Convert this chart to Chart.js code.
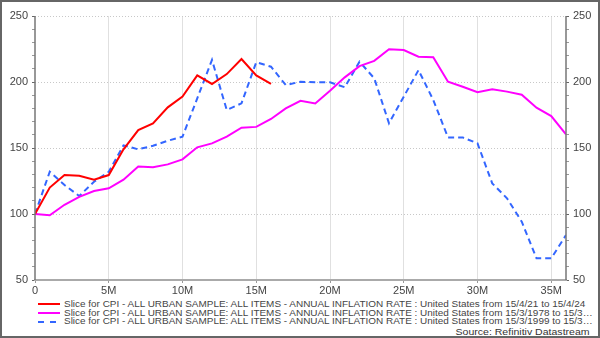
<!DOCTYPE html>
<html>
<head>
<meta charset="utf-8">
<script src="https://cdn.jsdelivr.net/npm/chart.js@4.4.1/dist/chart.umd.min.js"></script>
<style>
    body { margin: 0; background: #fff; font-family: "Liberation Sans", Arial, sans-serif; }
    #wrap { position: relative; width: 600px; height: 338px; overflow: hidden; }
    #frame { position: absolute; left: 0; top: 0; width: 600px; height: 338px; box-sizing: border-box; border: 2px solid #666; pointer-events: none; }
    #box { position: absolute; left: 0; top: 0; width: 600px; height: 298px; }
    #legend { position: absolute; left: 38px; top: 300px; font-size: 8.5px; color: #444; }
    .row { height: 8.7px; line-height: 8.7px; white-space: nowrap; display: flex; align-items: center; }
    .row svg { width: 22px; height: 4px; margin-right: 4px; flex: none; }
    .row span { display: inline-block; transform: scaleX(1.17); transform-origin: left center; }
    #source { position: absolute; right: 10px; top: 327px; font-size: 9px; color: #333; transform: scaleX(1.17); transform-origin: right center; }
</style>
</head>
<body>
<div id="wrap">
    <div id="box"><canvas id="cpiChart"></canvas></div>
    <div id="legend"></div>
    <div id="source">Source: Refinitiv Datastream</div>
    <div id="frame"></div>
</div>
<script>
// 月数 (0〜36)
const months = [0, 1, 2, 3, 4, 5, 6, 7, 8, 9, 10, 11, 12, 13, 14, 15, 16, 17, 18,
    19, 20, 21, 22, 23, 24, 25, 26, 27, 28, 29, 30, 31, 32, 33, 34, 35, 36];

// 2021年4月から
const red2021 = [100, 120, 129.5, 129, 126, 129.5, 149, 163.6, 168.7, 180.8, 188.9,
    205, 198.5, 206, 217.4, 205, 198.5];

// 1978年3月から
const magenta1978 = [100, 99, 107, 113, 117.4, 119.5, 126, 136, 135.4, 137.6, 141.4,
    150.5, 153.5, 158.6, 165.4, 166, 172, 180, 185.8, 183.8, 193.4, 203.5, 212, 216,
    224.8, 224.2, 219.2, 218.7, 200.2, 196.4, 192.2, 194.5, 192.7, 190.4, 180.5, 174.2, 160.4];

// 1999年3月から
const blue1999 = [100, 132, 122, 113.6, 124.5, 132, 152, 149, 151.7, 155.5, 158.6,
    187.6, 216.7, 178.8, 183.8, 215, 211.6, 197.7, 200.2, 199.8, 199.8, 196, 215.4, 202.8,
    168.7, 188.9, 209, 186.4, 158, 158, 153.5, 123.2, 111.9, 94.2, 66.4, 66.4, 84];

const seriesLabels = [
    'Slice for CPI - ALL URBAN SAMPLE: ALL ITEMS - ANNUAL INFLATION RATE : United States from 15/4/21 to 15/4/24',
    'Slice for CPI - ALL URBAN SAMPLE: ALL ITEMS - ANNUAL INFLATION RATE : United States from 15/3/1978 to 15/3\u2026',
    'Slice for CPI - ALL URBAN SAMPLE: ALL ITEMS - ANNUAL INFLATION RATE : United States from 15/3/1999 to 15/3\u2026'
];

const yMin = 50;
const yMax = 250;

function toPoints(values) {
    return values.map((v, i) => ({ x: months[i], y: v }));
}

const tickFont = { family: '"Liberation Sans", Arial, sans-serif', size: 11 };

function yAxis(position) {
    return {
        type: 'linear',
        position: position,
        min: yMin,
        max: yMax,
        afterFit: scale => { scale.width = position === 'left' ? 35 : 34; },
        ticks: {
            stepSize: 10,
            autoSkip: false,
            padding: 4,
            color: '#444',
            font: tickFont,
            callback: v => (v % 50 === 0 ? v : '')
        },
        grid: {
            drawOnChartArea: position === 'left',
            color: ctx => (ctx.tick && ctx.tick.value % 50 === 0 && ctx.tick.value !== yMin) ? '#c8c8c8' : 'rgba(0,0,0,0)',
            tickColor: ctx => (ctx.tick && ctx.tick.value % 50 === 0) ? '#666' : '#999',
            tickLength: 3
        },
        // 点線の目盛線 (軸線はプラグインで描く)
        border: { display: false, dash: [1, 2] }
    };
}

// 左右の軸線を実線で描く
const axisLines = {
    id: 'axisLines',
    afterDatasetsDraw(chart) {
        const { ctx, chartArea } = chart;
        ctx.save();
        ctx.strokeStyle = '#777';
        ctx.lineWidth = 1.5;
        ctx.beginPath();
        ctx.moveTo(chartArea.left, chartArea.top);
        ctx.lineTo(chartArea.left, chartArea.bottom);
        ctx.moveTo(chartArea.right, chartArea.top);
        ctx.lineTo(chartArea.right, chartArea.bottom);
        ctx.stroke();
        ctx.restore();
    }
};

const datasets = [
    { label: seriesLabels[0], data: toPoints(red2021), borderColor: '#ff0000', borderWidth: 2 },
    { label: seriesLabels[1], data: toPoints(magenta1978), borderColor: '#ff00ff', borderWidth: 2 },
    { label: seriesLabels[2], data: toPoints(blue1999), borderColor: '#3366ff', borderWidth: 2, borderDash: [6, 4] }
];
datasets.forEach(d => {
    d.pointRadius = 0;
    d.tension = 0;
    d.fill = false;
});

const ctx = document.getElementById('cpiChart').getContext('2d');
new Chart(ctx, {
    type: 'line',
    data: { datasets: datasets },
    plugins: [axisLines],
    options: {
        responsive: true,
        maintainAspectRatio: false,
        animation: false,
        layout: { padding: { top: 16, left: 0, right: 0, bottom: 0 } },
        plugins: { legend: { display: false }, tooltip: { enabled: false } },
        scales: {
            x: {
                type: 'linear',
                min: 0,
                max: 36,
                afterFit: scale => { scale.height = 18; },
                ticks: {
                    stepSize: 5,
                    includeBounds: false,
                    maxRotation: 0,
                    padding: 1,
                    color: '#444',
                    font: tickFont,
                    callback: v => (v === 0 ? '0' : v + 'M')
                },
                grid: {
                    color: ctx => (ctx.tick && ctx.tick.value === 0) ? 'rgba(0,0,0,0)' : '#e0e0e0',
                    tickColor: '#999',
                    tickLength: 3
                },
                border: { color: '#aaa', width: 2 }
            },
            y: yAxis('left'),
            y2: yAxis('right')
        }
    }
});

// 凡例を作成
document.getElementById('legend').innerHTML = datasets.map(d => `
    <div class="row">
        <svg viewBox="0 0 22 4"><line x1="0" y1="2" x2="22" y2="2" stroke="${d.borderColor}" stroke-width="2"
            ${d.borderDash ? 'stroke-dasharray="6 6"' : ''}/></svg>
        <span>${d.label}</span>
    </div>
`).join('');
</script>
</body>
</html>
